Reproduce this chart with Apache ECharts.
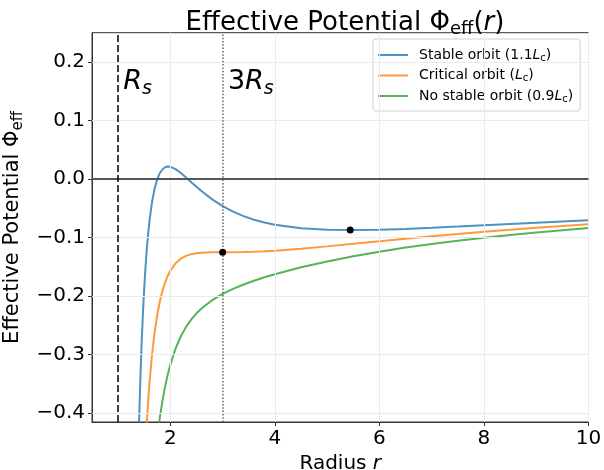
<!DOCTYPE html>
<html>
<head>
<meta charset="utf-8">
<script src="https://cdn.jsdelivr.net/npm/echarts@6/dist/echarts.min.js"></script>
<style>
  html, body { margin: 0; padding: 0; background: #fff; }
  #chart { width: 604px; height: 470px; }
</style>
</head>
<body>
<div id="chart"></div>
<script>
// Sample radii (in units of the Schwarzschild radius R_s)
const radius = [1.3, 1.35, 1.4, 1.425, 1.45, 1.475, 1.5, 1.525, 1.55, 1.575, 1.6, 1.65, 1.7, 1.75,
  1.8, 1.85, 1.9, 1.95, 2.0, 2.1, 2.2, 2.3, 2.4, 2.5, 2.6, 2.8, 3.0, 3.2, 3.4, 3.6, 3.8, 4.0,
  4.5, 5.0, 5.5, 6.0, 6.5, 7.0, 7.5, 8.0, 8.5, 9.0, 9.5, 10.0];

// Effective potential for each angular momentum
const stableOrbit = [-0.9169, -0.6163, -0.4165, -0.3419, -0.2799, -0.2282, -0.1850, -0.1488, -0.1184,
  -0.0929, -0.0715, -0.0385, -0.0155, 0.0001, 0.0104, 0.0167, 0.0201, 0.0213, 0.0209, 0.0169,
  0.0104, 0.0027, -0.0053, -0.0133, -0.0209, -0.0347, -0.0463, -0.0557, -0.0634, -0.0695, -0.0743,
  -0.0781, -0.0840, -0.0867, -0.0872, -0.0866, -0.0852, -0.0833, -0.0812, -0.0790, -0.0768,
  -0.0746, -0.0724, -0.0703];
const criticalOrbit = [-1.3363, -1.0052, -0.7781, -0.6909, -0.6170, -0.5540, -0.5000, -0.4535, -0.4134,
  -0.3786, -0.3483, -0.2988, -0.2608, -0.2313, -0.2083, -0.1903, -0.1762, -0.1651, -0.1563, -0.1438,
  -0.1360, -0.1312, -0.1283, -0.1267, -0.1257, -0.1251, -0.1250, -0.1250, -0.1247, -0.1242, -0.1234,
  -0.1224, -0.1190, -0.1150, -0.1107, -0.1063, -0.1019, -0.0978, -0.0938, -0.0901, -0.0866,
  -0.0833, -0.0802, -0.0774];
const noStableOrbit = [-1.7157, -1.3571, -1.1052, -1.0067, -0.9220, -0.8487, -0.7850, -0.7293, -0.6803,
  -0.6371, -0.5988, -0.5343, -0.4826, -0.4407, -0.4063, -0.3777, -0.3538, -0.3337, -0.3166, -0.2892,
  -0.2685, -0.2525, -0.2397, -0.2293, -0.2206, -0.2069, -0.1963, -0.1876, -0.1802, -0.1737, -0.1678,
  -0.1625, -0.1507, -0.1407, -0.1319, -0.1241, -0.1171, -0.1109, -0.1052, -0.1001, -0.0955,
  -0.0913, -0.0874, -0.0838];

// Marked circular orbits: ISCO on the critical curve, potential minimum on the stable curve
const circularOrbits = [[3.0, -0.1250], [5.44, -0.0872]];

const seriesNames = ['Stable orbit (1.1Lc)', 'Critical orbit (Lc)', 'No stable orbit (0.9Lc)'];
const legendLabels = ['Stable orbit (1.1{i|L}{sub|c})', 'Critical orbit ({i|L}{sub|c})',
  'No stable orbit (0.9{i|L}{sub|c})'];
const seriesColors = ['#1f77b4', '#ff7f0e', '#2ca02c'];

const xTicks = [2, 4, 6, 8, 10];
const yTicks = [-0.4, -0.3, -0.2, -0.1, 0.0, 0.1, 0.2];

// Reference radii: event horizon and ISCO
const schwarzschildRadius = 1;
const iscoRadius = 3;
const radiusLabels = [[1.1, 0.15, '{i|R}{s|s}'], [3.1, 0.15, '{n|3}{i|R}{s|s}']];

const FONT = 'DejaVu Sans';

const pairs = ys => radius.map((r, i) => [r, ys[i]]);
const curveSeries = [stableOrbit, criticalOrbit, noStableOrbit].map((ys, k) => ({
  name: seriesNames[k],
  type: 'line',
  data: pairs(ys),
  showSymbol: false,
  symbol: 'none',
  clip: true,
  z: 3,
  lineStyle: { color: seriesColors[k], width: 2, opacity: 0.8 },
  itemStyle: { color: seriesColors[k], opacity: 0.8 },
  emphasis: { disabled: true }
}));

const chart = echarts.init(document.getElementById('chart'), null, { renderer: 'canvas' });

chart.setOption({
  animation: false,
  backgroundColor: '#fff',
  title: {
    text: 'Effective Potential Φ{sub|eff}({i|r})',
    left: 340,
    textAlign: 'center',
    top: 3,
    textStyle: {
      fontFamily: FONT, fontSize: 26, fontWeight: 'normal', color: '#000', lineHeight: 30,
      rich: {
        sub: { fontFamily: FONT, fontSize: 18, color: '#000', verticalAlign: 'bottom', lineHeight: 12 },
        i: { fontFamily: FONT, fontSize: 26, fontStyle: 'italic', color: '#000', lineHeight: 30 }
      }
    }
  },
  grid: {
    left: 92, right: 15.5, top: 32.7, bottom: 48,
    show: true, borderColor: '#333', borderWidth: 1, backgroundColor: 'transparent',
    containLabel: false, outerBoundsMode: 'none'
  },
  legend: {
    data: seriesNames,
    orient: 'vertical',
    left: 373, top: 39,
    padding: [8, 7, 7, 5],
    itemGap: 4.5,
    itemWidth: 30, itemHeight: 2,
    icon: 'rect',
    backgroundColor: 'rgba(255,255,255,0.8)',
    borderColor: '#d0d0d0', borderWidth: 1, borderRadius: 3,
    formatter: name => legendLabels[seriesNames.indexOf(name)],
    textStyle: {
      fontFamily: FONT, fontSize: 14, color: '#000', lineHeight: 16, padding: [0, 0, 0, 6],
      rich: {
        i: { fontFamily: FONT, fontSize: 14, fontStyle: 'italic', color: '#000', lineHeight: 16 },
        sub: { fontFamily: FONT, fontSize: 10, color: '#000', verticalAlign: 'bottom', lineHeight: 8 }
      }
    }
  },
  xAxis: {
    type: 'value', min: 0.5, max: 10,
    name: 'Radius {i|r}', nameLocation: 'middle', nameGap: 30,
    nameTextStyle: {
      fontFamily: FONT, fontSize: 20, color: '#000',
      rich: { i: { fontFamily: FONT, fontSize: 20, fontStyle: 'italic', color: '#000' } }
    },
    axisLine: { show: true, onZero: false, lineStyle: { color: '#333', width: 1 } },
    axisTick: { show: true, length: 4, lineStyle: { color: '#333', width: 1 }, customValues: xTicks },
    axisLabel: {
      customValues: xTicks, margin: 7,
      fontFamily: FONT, fontSize: 20, color: '#000',
      formatter: v => String(Math.round(v))
    },
    splitLine: { show: false }
  },
  yAxis: {
    type: 'value', min: -0.415, max: 0.25,
    name: 'Effective Potential Φ{sub|eff}', nameLocation: 'middle', nameGap: 60, nameRotate: 90,
    nameTextStyle: {
      fontFamily: FONT, fontSize: 21, color: '#000', lineHeight: 25,
      rich: { sub: { fontFamily: FONT, fontSize: 15, color: '#000', verticalAlign: 'bottom', lineHeight: 10 } }
    },
    axisLine: { show: true, onZero: false, lineStyle: { color: '#333', width: 1 } },
    axisTick: { show: true, length: 4, lineStyle: { color: '#333', width: 1 }, customValues: yTicks },
    axisLabel: {
      customValues: yTicks, margin: 7,
      fontFamily: FONT, fontSize: 20, color: '#000',
      formatter: v => (v < -1e-9 ? '\u2212' : '') + Math.abs(v).toFixed(1)
    },
    splitLine: { show: false }
  },
  series: [
    {
      // background grid
      type: 'line', data: [], z: 1, silent: true,
      markLine: {
        silent: true, symbol: 'none', animation: false, label: { show: false },
        lineStyle: { color: '#ebebeb', width: 1, type: 'solid' },
        emphasis: { disabled: true },
        data: [...xTicks.map(v => ({ xAxis: v })), ...yTicks.map(v => ({ yAxis: v }))]
      }
    },
    {
      // reference lines: zero level, R_s and 3R_s
      type: 'line', data: [], z: 2, silent: true,
      markLine: {
        silent: true, symbol: 'none', animation: false, label: { show: false },
        emphasis: { disabled: true },
        data: [
          { yAxis: 0, lineStyle: { color: '#555', width: 1.8, type: 'solid' } },
          { xAxis: schwarzschildRadius, lineStyle: { color: '#000', width: 1.5, type: [7, 3] } },
          { xAxis: iscoRadius, lineStyle: { color: '#666', width: 1.5, type: [1.5, 1.8] } }
        ]
      }
    },
    ...curveSeries,
    {
      type: 'scatter', data: circularOrbits, symbol: 'circle', symbolSize: 7, z: 5,
      itemStyle: { color: '#000', opacity: 1 }, emphasis: { disabled: true }, silent: true
    },
    {
      type: 'scatter', data: radiusLabels, symbolSize: 0, z: 5, silent: true,
      itemStyle: { opacity: 1 },
      label: {
        show: true, position: 'right', distance: 0, offset: [0, -9],
        color: '#000', opacity: 1,
        formatter: p => p.data[2],
        rich: {
          i: { fontFamily: FONT, fontSize: 27, fontStyle: 'italic', color: '#000', lineHeight: 32 },
          n: { fontFamily: FONT, fontSize: 27, color: '#000', lineHeight: 32 },
          s: { fontFamily: FONT, fontSize: 19, fontStyle: 'italic', color: '#000', verticalAlign: 'bottom', lineHeight: 14 }
        }
      }
    }
  ]
});
</script>
</body>
</html>
